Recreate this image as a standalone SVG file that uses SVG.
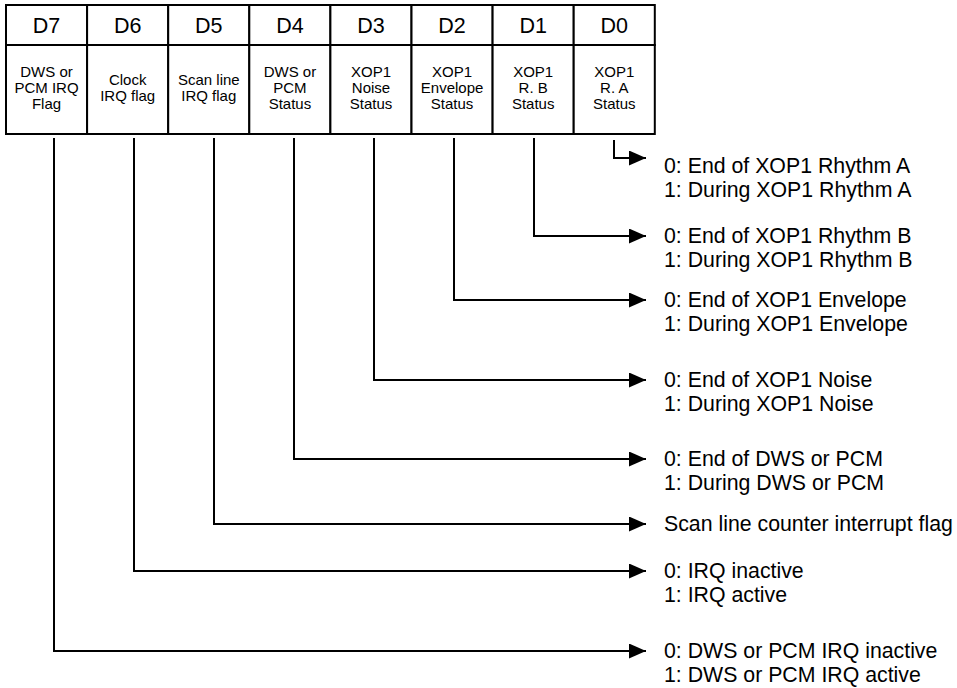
<svg xmlns="http://www.w3.org/2000/svg" width="957" height="688" viewBox="0 0 957 688">
<style>
.cell{fill:#fff;stroke:#000;stroke-width:2}
.hd{font-family:"Liberation Sans",Arial,sans-serif;font-size:21.5px;fill:#000;text-anchor:middle}
.bd{font-family:"Liberation Sans",Arial,sans-serif;font-size:15px;fill:#000;text-anchor:middle}
.lbl{font-family:"Liberation Sans",Arial,sans-serif;font-size:21.3px;fill:#000}
.con{fill:none;stroke:#000;stroke-width:2;marker-end:url(#ah)}
</style>
<defs>
<marker id="ah" markerUnits="userSpaceOnUse" markerWidth="18" markerHeight="16" refX="17" refY="7.5" orient="auto">
<path d="M0,0 L17,7.5 L0,15 Z" fill="#000"/>
</marker>
</defs>
<rect width="957" height="688" fill="#fff"/>
<g id="D7"><rect class="cell" x="6" y="5" width="81.1" height="40"/><rect class="cell" x="6" y="45" width="81.1" height="89"/>
<text class="hd" x="46.5" y="33">D7</text>
<text class="bd" x="46.5" y="77">DWS or</text><text class="bd" x="46.5" y="93">PCM IRQ</text><text class="bd" x="46.5" y="109">Flag</text></g>
<g id="D6"><rect class="cell" x="87.1" y="5" width="81.1" height="40"/><rect class="cell" x="87.1" y="45" width="81.1" height="89"/>
<text class="hd" x="127.7" y="33">D6</text>
<text class="bd" x="127.7" y="85">Clock</text><text class="bd" x="127.7" y="101">IRQ flag</text></g>
<g id="D5"><rect class="cell" x="168.2" y="5" width="81.1" height="40"/><rect class="cell" x="168.2" y="45" width="81.1" height="89"/>
<text class="hd" x="208.8" y="33">D5</text>
<text class="bd" x="208.8" y="85">Scan line</text><text class="bd" x="208.8" y="101">IRQ flag</text></g>
<g id="D4"><rect class="cell" x="249.3" y="5" width="81.1" height="40"/><rect class="cell" x="249.3" y="45" width="81.1" height="89"/>
<text class="hd" x="289.9" y="33">D4</text>
<text class="bd" x="289.9" y="77">DWS or</text><text class="bd" x="289.9" y="93">PCM</text><text class="bd" x="289.9" y="109">Status</text></g>
<g id="D3"><rect class="cell" x="330.4" y="5" width="81.1" height="40"/><rect class="cell" x="330.4" y="45" width="81.1" height="89"/>
<text class="hd" x="371" y="33">D3</text>
<text class="bd" x="371" y="77">XOP1</text><text class="bd" x="371" y="93">Noise</text><text class="bd" x="371" y="109">Status</text></g>
<g id="D2"><rect class="cell" x="411.5" y="5" width="81.1" height="40"/><rect class="cell" x="411.5" y="45" width="81.1" height="89"/>
<text class="hd" x="452.1" y="33">D2</text>
<text class="bd" x="452.1" y="77">XOP1</text><text class="bd" x="452.1" y="93">Envelope</text><text class="bd" x="452.1" y="109">Status</text></g>
<g id="D1"><rect class="cell" x="492.6" y="5" width="81.1" height="40"/><rect class="cell" x="492.6" y="45" width="81.1" height="89"/>
<text class="hd" x="533.2" y="33">D1</text>
<text class="bd" x="533.2" y="77">XOP1</text><text class="bd" x="533.2" y="93">R. B</text><text class="bd" x="533.2" y="109">Status</text></g>
<g id="D0"><rect class="cell" x="573.7" y="5" width="81.1" height="40"/><rect class="cell" x="573.7" y="45" width="81.1" height="89"/>
<text class="hd" x="614.3" y="33">D0</text>
<text class="bd" x="614.3" y="77">XOP1</text><text class="bd" x="614.3" y="93">R. A</text><text class="bd" x="614.3" y="109">Status</text></g>
<g id="connectors">
<path class="con" d="M614,140 V158 H646"/>
<path class="con" d="M534,138 V236 H646"/>
<path class="con" d="M454,138 V300 H646"/>
<path class="con" d="M374,138 V380 H646"/>
<path class="con" d="M294,138 V459 H646"/>
<path class="con" d="M214,138 V524 H646"/>
<path class="con" d="M134,138 V571 H646"/>
<path class="con" d="M54,138 V651 H646"/>
</g>
<g id="labels">
<text class="lbl" x="664" y="173">0: End of XOP1 Rhythm A</text>
<text class="lbl" x="664" y="197">1: During XOP1 Rhythm A</text>
<text class="lbl" x="664" y="243">0: End of XOP1 Rhythm B</text>
<text class="lbl" x="664" y="267">1: During XOP1 Rhythm B</text>
<text class="lbl" x="664" y="307">0: End of XOP1 Envelope</text>
<text class="lbl" x="664" y="331">1: During XOP1 Envelope</text>
<text class="lbl" x="664" y="387">0: End of XOP1 Noise</text>
<text class="lbl" x="664" y="411">1: During XOP1 Noise</text>
<text class="lbl" x="664" y="466">0: End of DWS or PCM</text>
<text class="lbl" x="664" y="490">1: During DWS or PCM</text>
<text class="lbl" x="664" y="531">Scan line counter interrupt flag</text>
<text class="lbl" x="664" y="578">0: IRQ inactive</text>
<text class="lbl" x="664" y="602">1: IRQ active</text>
<text class="lbl" x="664" y="658">0: DWS or PCM IRQ inactive</text>
<text class="lbl" x="664" y="682">1: DWS or PCM IRQ active</text>
</g>
</svg>
